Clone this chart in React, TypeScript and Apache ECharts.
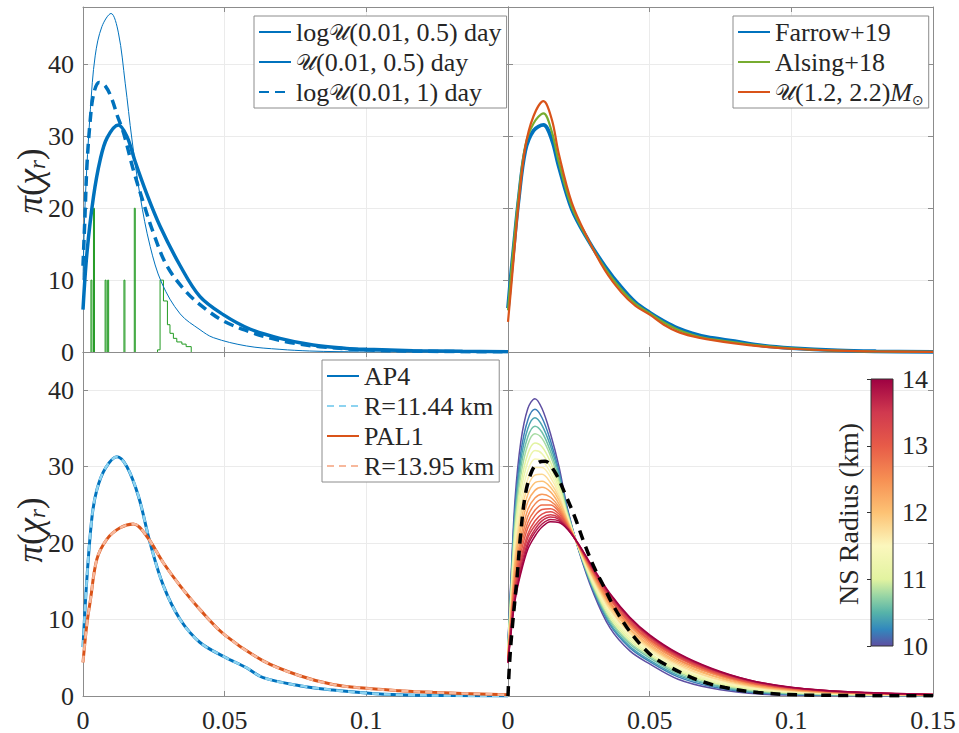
import React, { useEffect, useRef } from 'react';
import * as echarts from 'echarts';

// ---------------- Data ----------------
// shared ticks
const xTicks = [0, 0.05, 0.1, 0.15];
const yTicks = [0, 10, 20, 30, 40];
const cbTicks = [10, 11, 12, 13, 14];

// Top-left panel
const tlLogU05X = [0, 0.0014, 0.0037, 0.0061, 0.0085, 0.0125, 0.0155, 0.0184, 0.0225, 0.0272, 0.0343, 0.0413, 0.0495, 0.0589, 0.0695, 0.0812, 0.093, 0.1, 0.1164, 0.134, 0.15];
const tlLogU05Y = [5.9, 13.8, 21.6, 26.8, 29.8, 31.6, 30.0, 26.5, 22.0, 17.5, 12.0, 7.7, 5.2, 3.2, 1.9, 0.97, 0.5, 0.37, 0.19, 0.1, 0.05];
const tlU05X = [0, 0.0008, 0.0026, 0.0043, 0.0067, 0.0099, 0.0125, 0.0149, 0.0173, 0.0202, 0.0237, 0.0278, 0.0343, 0.0413, 0.046, 0.0577, 0.0695, 0.08, 0.09, 0.105, 0.15];
const tlU05Y = [10.0, 21.2, 33.7, 41.2, 45.3, 47.1, 44.4, 37.4, 29.5, 21.6, 14.7, 9.6, 5.3, 3.1, 2.0, 0.84, 0.37, 0.14, 0.05, 0.01, 0];
const tlLogU1X = [0, 0.0007, 0.0014, 0.0025, 0.0037, 0.0057, 0.0079, 0.0102, 0.012, 0.0143, 0.0178, 0.0213, 0.0249, 0.0296, 0.0366, 0.0437, 0.0501, 0.0589, 0.0665, 0.0748, 0.0836, 0.1, 0.12, 0.15];
const tlLogU1Y = [12.0, 19.0, 26.0, 32.0, 35.8, 37.5, 37.0, 35.2, 33.0, 30.5, 25.3, 20.8, 16.5, 12.0, 8.3, 5.85, 4.2, 2.8, 1.9, 1.2, 0.74, 0.3, 0.1, 0.02];
const tlHistEdges = [0.0028, 0.00315, 0.0037, 0.00405, 0.0078, 0.00815, 0.0087, 0.00905, 0.01445, 0.0148, 0.0181, 0.01845, 0.0263, 0.0272, 0.0284, 0.0298, 0.0307, 0.0319, 0.0331, 0.0349, 0.0364, 0.0382];
const tlHistCounts = [10, 0, 20, 0, 10, 0, 10, 0, 10, 0, 20, 0, 0.3, 10, 7.1, 3.8, 2.6, 1.9, 1.4, 1.1, 0.75];

// Top-right panel
const trX = [0, 0.001, 0.002, 0.0037, 0.0061, 0.009, 0.0125, 0.0155, 0.0178, 0.0225, 0.0284, 0.0343, 0.04, 0.045, 0.05, 0.055, 0.06, 0.065, 0.07, 0.08, 0.09, 0.1, 0.1164, 0.13, 0.15];
const trFarrow = [6.1, 10.5, 14.5, 21.0, 28.0, 30.8, 31.6, 29.5, 26.0, 19.9, 15.5, 11.9, 9.0, 6.9, 5.5, 4.3, 3.3, 2.6, 2.1, 1.5, 0.9, 0.55, 0.22, 0.1, 0.03];
const trAlsing = [5.8, 10.5, 14.8, 21.5, 28.7, 31.8, 33.2, 30.6, 26.6, 20.2, 15.5, 11.6, 8.7, 6.7, 5.4, 4.1, 3.1, 2.4, 1.9, 1.35, 0.85, 0.5, 0.2, 0.08, 0.03];
const trUniform = [4.2, 8.5, 13.0, 20.5, 28.5, 32.8, 34.9, 32.3, 27.8, 20.8, 15.6, 11.3, 8.3, 6.4, 5.2, 3.8, 2.8, 2.2, 1.8, 1.2, 0.75, 0.45, 0.18, 0.07, 0.02];

// Bottom-left panel
const blAP4X = [0, 0.0014, 0.0032, 0.0049, 0.0079, 0.012, 0.0155, 0.0196, 0.0237, 0.0284, 0.0343, 0.0413, 0.05, 0.0577, 0.0636, 0.0765, 0.0882, 0.1, 0.1117, 0.13, 0.15];
const blAP4Y = [6.4, 15.5, 23.5, 27.0, 29.8, 31.3, 30.0, 26.1, 20.0, 14.4, 10.0, 7.0, 5.1, 3.7, 2.4, 1.35, 0.78, 0.39, 0.15, 0.05, 0.0];
const blPAL1X = [0, 0.0014, 0.0026, 0.0049, 0.0084, 0.0131, 0.0178, 0.0225, 0.0284, 0.0343, 0.0413, 0.05, 0.0636, 0.0765, 0.0882, 0.1, 0.1117, 0.1235, 0.15];
const blPAL1Y = [4.4, 9.5, 12.5, 17.9, 20.5, 22.0, 22.5, 20.9, 17.4, 14.4, 11.3, 8.0, 4.6, 2.65, 1.5, 1.0, 0.7, 0.48, 0.15];

// Bottom-right panel
const brX = [0, 0.001, 0.0025, 0.0045, 0.007, 0.0095, 0.012, 0.015, 0.018, 0.021, 0.025, 0.03, 0.036, 0.043, 0.05, 0.06, 0.072, 0.085, 0.1, 0.12, 0.15];
const brRadii = [10.0, 10.2, 10.4, 10.6, 10.8, 11.0, 11.2, 11.4, 11.6, 11.8, 12.0, 12.2, 12.4, 12.6, 12.8, 13.0, 13.2, 13.4, 13.6, 13.8, 14.0];
const brR100 = [7.0, 15.0, 25.8, 33.2, 37.6, 38.9, 37.6, 34.3, 30.0, 24.5, 19.0, 13.6, 8.9, 5.9, 4.2, 2.2, 1.0, 0.35, 0.12, 0.04, 0.0];
const brR102 = [6.8, 14.4, 24.7, 31.8, 36.1, 37.5, 36.4, 33.4, 29.4, 24.3, 19.1, 13.9, 9.3, 6.3, 4.5, 2.5, 1.2, 0.49, 0.2, 0.08, 0.02];
const brR104 = [6.6, 14.0, 23.9, 30.8, 35.0, 36.4, 35.4, 32.7, 29.0, 24.1, 19.1, 14.1, 9.5, 6.5, 4.7, 2.7, 1.4, 0.6, 0.26, 0.11, 0.03];
const brR106 = [6.5, 13.6, 23.1, 29.8, 33.9, 35.3, 34.5, 32.0, 28.5, 24.0, 19.2, 14.2, 9.8, 6.8, 5.0, 2.9, 1.5, 0.7, 0.33, 0.14, 0.04];
const brR108 = [6.3, 13.2, 22.4, 28.8, 32.9, 34.3, 33.7, 31.4, 28.1, 23.8, 19.2, 14.4, 10.0, 7.0, 5.2, 3.1, 1.7, 0.8, 0.38, 0.17, 0.05];
const brR110 = [6.1, 12.8, 21.5, 27.7, 31.7, 33.1, 32.6, 30.6, 27.7, 23.6, 19.3, 14.6, 10.3, 7.3, 5.4, 3.3, 1.8, 0.91, 0.45, 0.2, 0.06];
const brR112 = [6.0, 12.3, 20.8, 26.7, 30.6, 32.1, 31.7, 29.9, 27.2, 23.5, 19.3, 14.8, 10.6, 7.6, 5.6, 3.5, 2.0, 1.0, 0.51, 0.23, 0.08];
const brR114 = [5.8, 11.9, 20.0, 25.6, 29.5, 31.0, 30.8, 29.2, 26.8, 23.3, 19.4, 15.0, 10.9, 7.8, 5.9, 3.7, 2.1, 1.1, 0.57, 0.26, 0.09];
const brR116 = [5.7, 11.5, 19.2, 24.6, 28.4, 29.9, 29.9, 28.6, 26.4, 23.2, 19.4, 15.2, 11.2, 8.1, 6.1, 3.9, 2.3, 1.2, 0.64, 0.3, 0.1];
const brR118 = [5.5, 11.1, 18.4, 23.7, 27.4, 28.9, 29.0, 27.9, 26.0, 23.0, 19.4, 15.4, 11.4, 8.3, 6.3, 4.1, 2.4, 1.3, 0.69, 0.32, 0.11];
const brR120 = [5.4, 10.7, 17.7, 22.7, 26.4, 27.9, 28.1, 27.3, 25.6, 22.9, 19.5, 15.6, 11.7, 8.6, 6.5, 4.3, 2.6, 1.4, 0.75, 0.35, 0.12];
const brR122 = [5.2, 10.3, 17.0, 21.8, 25.4, 26.9, 27.3, 26.7, 25.1, 22.7, 19.5, 15.7, 11.9, 8.8, 6.7, 4.5, 2.7, 1.5, 0.8, 0.38, 0.13];
const brR124 = [5.1, 10.0, 16.2, 20.8, 24.4, 25.9, 26.4, 26.0, 24.7, 22.6, 19.6, 15.9, 12.1, 9.1, 6.9, 4.7, 2.9, 1.6, 0.86, 0.41, 0.14];
const brR126 = [4.9, 9.6, 15.6, 20.0, 23.5, 25.1, 25.7, 25.5, 24.4, 22.4, 19.6, 16.1, 12.3, 9.3, 7.1, 4.8, 3.0, 1.7, 0.91, 0.43, 0.15];
const brR128 = [4.8, 9.3, 15.0, 19.3, 22.7, 24.3, 25.0, 25.0, 24.1, 22.3, 19.6, 16.2, 12.6, 9.5, 7.3, 5.0, 3.1, 1.8, 0.95, 0.45, 0.16];
const brR130 = [4.7, 9.1, 14.5, 18.6, 22.0, 23.6, 24.4, 24.5, 23.8, 22.2, 19.7, 16.3, 12.7, 9.6, 7.4, 5.1, 3.2, 1.8, 1.0, 0.47, 0.17];
const brR132 = [4.6, 8.8, 14.0, 17.9, 21.2, 22.9, 23.8, 24.1, 23.5, 22.1, 19.7, 16.5, 12.9, 9.8, 7.6, 5.2, 3.3, 1.9, 1.04, 0.49, 0.18];
const brR134 = [4.5, 8.6, 13.6, 17.4, 20.7, 22.3, 23.3, 23.7, 23.3, 22.0, 19.7, 16.5, 13.0, 10.0, 7.7, 5.3, 3.4, 2.0, 1.07, 0.51, 0.18];
const brR136 = [4.4, 8.4, 13.2, 16.9, 20.1, 21.8, 22.9, 23.4, 23.1, 21.9, 19.8, 16.6, 13.2, 10.1, 7.8, 5.4, 3.5, 2.0, 1.1, 0.52, 0.19];
const brR138 = [4.4, 8.2, 12.8, 16.4, 19.7, 21.4, 22.5, 23.1, 22.9, 21.9, 19.8, 16.7, 13.3, 10.2, 7.9, 5.5, 3.5, 2.1, 1.12, 0.54, 0.2];
const brR140 = [4.3, 8.0, 12.5, 16.0, 19.2, 20.9, 22.1, 22.8, 22.7, 21.8, 19.8, 16.8, 13.4, 10.3, 8.0, 5.6, 3.6, 2.1, 1.15, 0.55, 0.2];
const brCurves = [brR100, brR102, brR104, brR106, brR108, brR110, brR112, brR114, brR116, brR118, brR120, brR122, brR124, brR126, brR128, brR130, brR132, brR134, brR136, brR138, brR140];
const brMeanX = [0, 0.0005, 0.0014, 0.0032, 0.0043, 0.0061, 0.0085, 0.011, 0.0131, 0.0167, 0.0202, 0.0237, 0.0267, 0.0302, 0.0337, 0.0372, 0.0419, 0.0466, 0.0513, 0.0566, 0.0625, 0.0684, 0.0766, 0.0883, 0.1047, 0.15];
const brMeanY = [0, 4.0, 8.5, 15.5, 20.5, 26.3, 29.5, 30.6, 30.7, 29.2, 26.4, 23.3, 20.2, 17.0, 14.4, 11.8, 9.0, 6.8, 5.1, 3.9, 2.8, 1.9, 1.1, 0.45, 0.13, 0.02];

// Colormap (NS radius -> colour)
const cmapR = [10, 10.25, 10.5, 10.75, 11, 11.5, 12, 12.5, 13, 13.5, 14];
const cmapC = ['#5e4fa2', '#3288bd', '#56b3a9', '#98d5a4', '#e2f3a0', '#fbf7bd', '#fdc274', '#f68f53', '#e75b48', '#d0394f', '#9e0142'];

// ---------------- Helpers ----------------
const SERIF = 'Liberation Serif, DejaVu Serif, serif';
const CAL = 'DejaVu Serif, DejaVu Sans, serif';
const AXC = '#8c8c8c';
const GRIDC = '#ebebeb';
const TXT = '#262626';
const FS = 26;
const BLUE = '#0072bd';
const GREEN = '#77ac30';
const ORANGE = '#d95319';

function zip(xs: number[], ys: number[]) {
  return xs.map((x, i) => [x, ys[i]]);
}

function stairs(edges: number[], counts: number[]) {
  const pts: any[] = [];
  let open = false;
  for (let i = 0; i < counts.length; i++) {
    const c = counts[i];
    if (c > 0) {
      if (!open) {
        pts.push([edges[i], 0]);
        open = true;
      }
      pts.push([edges[i], c]);
      pts.push([edges[i + 1], c]);
    } else if (open) {
      pts.push([edges[i], 0]);
      pts.push([edges[i], NaN]);
      open = false;
    }
  }
  if (open) pts.push([edges[counts.length], 0]);
  return pts;
}

function hex2rgb(h: string) {
  return [parseInt(h.slice(1, 3), 16), parseInt(h.slice(3, 5), 16), parseInt(h.slice(5, 7), 16)];
}
function cmap(r: number) {
  for (let i = 0; i < cmapR.length - 1; i++) {
    if (r <= cmapR[i + 1] + 1e-9) {
      const t = Math.max(0, (r - cmapR[i]) / (cmapR[i + 1] - cmapR[i]));
      const a = hex2rgb(cmapC[i]);
      const b = hex2rgb(cmapC[i + 1]);
      const c = a.map((v, k) => Math.round(v + (b[k] - v) * t));
      return `rgb(${c[0]},${c[1]},${c[2]})`;
    }
  }
  return cmapC[cmapC.length - 1];
}

const fmtX = (v: number) => String(parseFloat(Number(v).toFixed(4)));

const richLegend = {
  n: { fontFamily: SERIF, fontSize: FS, lineHeight: 30, color: TXT },
  c: { fontFamily: CAL, fontSize: 22, lineHeight: 30, color: TXT },
  i: { fontFamily: SERIF, fontStyle: 'italic', fontSize: FS, lineHeight: 30, color: TXT },
  s: { fontFamily: 'DejaVu Sans, sans-serif', fontSize: 14, lineHeight: 18, color: TXT, verticalAlign: 'bottom' },
};

const legendLabels: Record<string, string> = {
  'logU(0.01,0.5)': '{n|log}{c|𝒰}{n|(0.01, 0.5) day}',
  'U(0.01,0.5)': '{c|𝒰}{n|(0.01, 0.5) day}',
  'logU(0.01,1)': '{n|log}{c|𝒰}{n|(0.01, 1) day}',
  'Farrow+19': '{n|Farrow+19}',
  'Alsing+18': '{n|Alsing+18}',
  'U(1.2,2.2)': '{c|𝒰}{n|(1.2, 2.2)}{i|M}{s|⊙}',
  'AP4': '{n|AP4}',
  'R=11.44 km': '{n|R=11.44 km}',
  'PAL1': '{n|PAL1}',
  'R=13.95 km': '{n|R=13.95 km}',
};

function lineSeries(name: string, g: number, data: any[], lineStyle: any, extra: any = {}) {
  return {
    type: 'line',
    name,
    xAxisIndex: 2 * g,
    yAxisIndex: 2 * g,
    data,
    symbol: 'none',
    showSymbol: false,
    smooth: 0.35,
    color: lineStyle.color,
    itemStyle: { color: lineStyle.color },
    lineStyle,
    silent: true,
    animation: false,
    ...extra,
  };
}

function buildOption() {
  const gridBoxes = [
    { left: 83, top: 7, width: 425, height: 345 },
    { left: 508, top: 7, width: 425, height: 345 },
    { left: 83, top: 352, width: 425, height: 345 },
    { left: 508, top: 352, width: 425, height: 345 },
    { left: 871, top: 379, width: 22, height: 267 },
  ];
  const yMax = [48, 48, 45, 45];

  const xAxis: any[] = [];
  const yAxis: any[] = [];
  for (let g = 0; g < 4; g++) {
    for (const pos of ['bottom', 'top']) {
      const isBottom = pos === 'bottom';
      xAxis.push({
        type: 'value',
        gridIndex: g,
        position: pos,
        min: xTicks[0],
        max: xTicks[xTicks.length - 1],
        interval: xTicks[1] - xTicks[0],
        axisLine: { show: true, onZero: false, lineStyle: { color: AXC, width: 1 } },
        axisTick: { show: true, inside: true, length: 5, lineStyle: { color: AXC } },
        axisLabel: {
          show: isBottom && g >= 2,
          showMaxLabel: g === 3,
          fontFamily: SERIF,
          fontSize: FS,
          color: TXT,
          margin: 11,
          formatter: fmtX,
        },
        splitLine: { show: isBottom, lineStyle: { color: GRIDC, width: 1 } },
      });
    }
    for (const pos of ['left', 'right']) {
      const isLeft = pos === 'left';
      yAxis.push({
        type: 'value',
        gridIndex: g,
        position: pos,
        min: yTicks[0],
        max: yMax[g],
        interval: yTicks[1] - yTicks[0],
        axisLine: { show: true, onZero: false, lineStyle: { color: AXC, width: 1 } },
        axisTick: { show: true, inside: true, length: 5, lineStyle: { color: AXC } },
        axisLabel: {
          show: isLeft && g % 2 === 0,
          showMaxLabel: false,
          fontFamily: SERIF,
          fontSize: FS,
          color: TXT,
          margin: 9,
        },
        splitLine: { show: isLeft, lineStyle: { color: GRIDC, width: 1 } },
      });
    }
  }
  // colour bar axes
  xAxis.push({ type: 'value', gridIndex: 4, show: false, min: 0, max: 1 });
  yAxis.push({
    type: 'value',
    gridIndex: 4,
    position: 'right',
    min: cbTicks[0],
    max: cbTicks[cbTicks.length - 1],
    interval: 1,
    axisLine: { show: false },
    axisTick: { show: true, inside: true, length: 4, lineStyle: { color: '#333' } },
    axisLabel: { fontFamily: SERIF, fontSize: FS, color: TXT, margin: 9 },
    splitLine: { show: false },
  });

  const series: any[] = [];
  // TL
  series.push(lineSeries('logU(0.01,0.5)', 0, zip(tlLogU05X, tlLogU05Y), { color: BLUE, width: 3.5 }, { z: 3 }));
  series.push(lineSeries('U(0.01,0.5)', 0, zip(tlU05X, tlU05Y), { color: BLUE, width: 1 }, { z: 3 }));
  series.push(lineSeries('logU(0.01,1)', 0, zip(tlLogU1X, tlLogU1Y), { color: BLUE, width: 3.5, type: [10, 6] }, { z: 3 }));
  series.push(
    lineSeries('hist', 0, stairs(tlHistEdges, tlHistCounts), { color: '#239b23', width: 1 }, { smooth: false, connectNulls: false, z: 2 })
  );
  // TR
  series.push(lineSeries('Farrow+19', 1, zip(trX, trFarrow), { color: BLUE, width: 3.8 }));
  series.push(lineSeries('Alsing+18', 1, zip(trX, trAlsing), { color: GREEN, width: 2.2 }));
  series.push(lineSeries('U(1.2,2.2)', 1, zip(trX, trUniform), { color: ORANGE, width: 2.2 }));
  // BL
  series.push(lineSeries('AP4', 2, zip(blAP4X, blAP4Y), { color: BLUE, width: 3 }));
  series.push(lineSeries('R=11.44 km', 2, zip(blAP4X, blAP4Y), { color: '#8dd3f0', width: 2.5, type: [7, 5] }));
  series.push(lineSeries('PAL1', 2, zip(blPAL1X, blPAL1Y), { color: ORANGE, width: 3 }));
  series.push(lineSeries('R=13.95 km', 2, zip(blPAL1X, blPAL1Y), { color: '#f7b89c', width: 2.5, type: [7, 5] }));
  // BR
  brCurves.forEach((ys, k) => {
    series.push(lineSeries('R' + brRadii[k].toFixed(1), 3, zip(brX, ys), { color: cmap(brRadii[k]), width: 1.5 }));
  });
  series.push(lineSeries('mean', 3, zip(brMeanX, brMeanY), { color: '#000000', width: 3.5, type: [10, 7] }, { z: 4 }));

  const legendCommon = {
    orient: 'vertical',
    align: 'left',
    itemWidth: 32,
    itemHeight: 12,
    itemGap: 0,
    itemTextGap: 3,
    padding: [1, 5, 1, 4],
    borderColor: '#8c8c8c',
    borderWidth: 1,
    backgroundColor: '#ffffff',
    selectedMode: false,
    itemStyle: { opacity: 0 },
    textStyle: { fontFamily: SERIF, fontSize: FS, color: TXT, lineHeight: 30, rich: richLegend },
    formatter: (name: string) => legendLabels[name] || name,
  };

  const cbStops = cmapR.map((r, i) => ({ offset: (r - cmapR[0]) / (cmapR[cmapR.length - 1] - cmapR[0]), color: cmapC[i] }));

  const richAxisName = {
    i: { fontFamily: SERIF, fontStyle: 'italic', fontSize: 35, fill: TXT, lineHeight: 38 },
    n: { fontFamily: SERIF, fontSize: 35, fill: TXT, lineHeight: 38 },
    s: { fontFamily: SERIF, fontStyle: 'italic', fontSize: 23, fill: TXT, lineHeight: 26, verticalAlign: 'bottom' },
  };

  return {
    animation: false,
    backgroundColor: '#ffffff',
    textStyle: { fontFamily: SERIF },
    grid: gridBoxes.map((b) => ({ ...b, containLabel: false })),
    xAxis,
    yAxis,
    series,
    legend: [
      { ...legendCommon, left: 254, top: 16, data: ['logU(0.01,0.5)', 'U(0.01,0.5)', 'logU(0.01,1)'] },
      { ...legendCommon, left: 733, top: 16, data: ['Farrow+19', 'Alsing+18', 'U(1.2,2.2)'] },
      { ...legendCommon, left: 322, top: 360, data: ['AP4', 'R=11.44 km', 'PAL1', 'R=13.95 km'] },
    ],
    graphic: [
      {
        type: 'rect',
        z: 10,
        shape: { x: 871, y: 379, width: 22, height: 267 },
        style: {
          fill: new echarts.graphic.LinearGradient(0, 1, 0, 0, cbStops),
          stroke: '#333333',
          lineWidth: 1,
        },
      },
      {
        type: 'text',
        z: 10,
        x: 30,
        y: 181,
        rotation: Math.PI / 2,
        style: { text: '{i|π}{n|(}{i|χ}{s|r}{n|)}', rich: richAxisName, align: 'center', verticalAlign: 'middle' },
      },
      {
        type: 'text',
        z: 10,
        x: 30,
        y: 530,
        rotation: Math.PI / 2,
        style: { text: '{i|π}{n|(}{i|χ}{s|r}{n|)}', rich: richAxisName, align: 'center', verticalAlign: 'middle' },
      },
      {
        type: 'text',
        z: 10,
        x: 848,
        y: 514,
        rotation: Math.PI / 2,
        style: { text: 'NS Radius (km)', fontFamily: SERIF, fontSize: 28, fill: TXT, align: 'center', verticalAlign: 'middle' },
      },
    ],
  };
}

export default function App() {
  const ref = useRef<HTMLDivElement>(null);
  useEffect(() => {
    const chart = echarts.init(ref.current as HTMLDivElement, undefined, { renderer: 'svg' });
    chart.setOption(buildOption() as any);
    return () => chart.dispose();
  }, []);
  return (
    <div
      ref={ref}
      style={{ position: 'fixed', left: 0, top: 0, width: 959, height: 733, background: '#ffffff' }}
    />
  );
}
